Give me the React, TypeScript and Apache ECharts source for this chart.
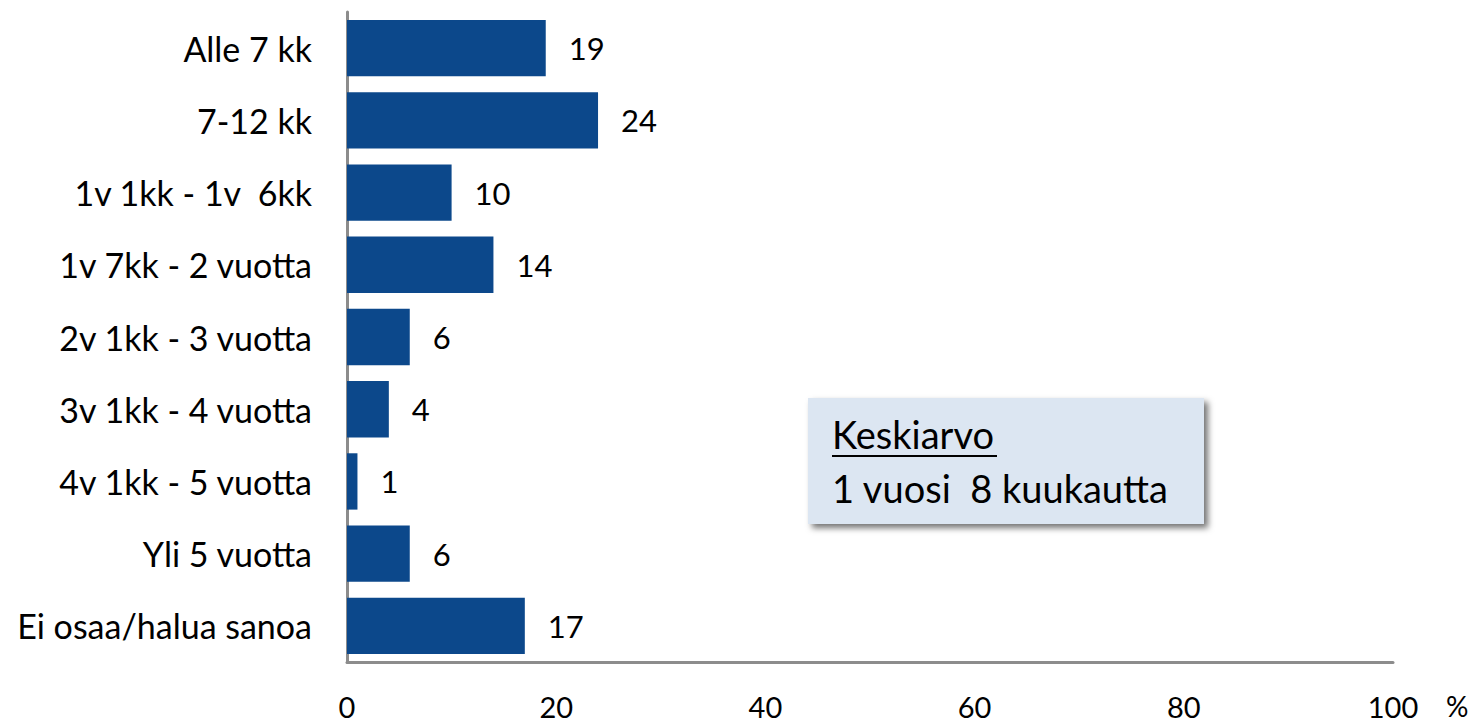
import React, { useEffect, useRef } from "react";
import * as echarts from "echarts";

const categories = [
  "Alle 7 kk",
  "7-12 kk",
  "1v 1kk - 1v  6kk",
  "1v 7kk - 2 vuotta",
  "2v 1kk - 3 vuotta",
  "3v 1kk - 4 vuotta",
  "4v 1kk - 5 vuotta",
  "Yli 5 vuotta",
  "Ei osaa/halua sanoa",
];
const values = [19, 24, 10, 14, 6, 4, 1, 6, 17];
const xTicks = [0, 20, 40, 60, 80, 100];
const boxTitle = "Keskiarvo";
const boxText = "1 vuosi  8 kuukautta";
const unitLabel = "%";

const FONT = "Lato, 'Open Sans', sans-serif";

export default function App() {
  const ref = useRef<HTMLDivElement>(null);
  useEffect(() => {
    if (!ref.current) return;
    const chart = echarts.init(ref.current, null, { renderer: "svg" });
    chart.setOption({
      animation: false,
      textStyle: { fontFamily: FONT },
      grid: { left: 347, top: 12, right: 86, bottom: 63, containLabel: false },
      xAxis: {
        type: "value",
        min: xTicks[0],
        max: xTicks[xTicks.length - 1],
        interval: 20,
        axisLine: { show: true, lineStyle: { color: "#8c8c8c", width: 3 } },
        axisTick: { show: false },
        splitLine: { show: false },
        axisLabel: { color: "#000", fontSize: 29, margin: 28, lineHeight: 32, fontFamily: FONT },
      },
      yAxis: {
        type: "category",
        inverse: true,
        data: categories,
        axisLine: { show: true, lineStyle: { color: "#8c8c8c", width: 3 } },
        axisTick: { show: false },
        axisLabel: { color: "#000", fontSize: 34, margin: 35, fontFamily: FONT },
      },
      series: [
        {
          type: "bar",
          data: values,
          barCategoryGap: "22%",
          itemStyle: { color: "#0c488b" },
          label: {
            show: true,
            position: "right",
            distance: 23,
            color: "#000",
            fontSize: 31,
            fontFamily: FONT,
          },
        },
      ],
      graphic: [
        {
          type: "text",
          x: 1446,
          y: 706,
          style: { text: unitLabel, fontSize: 28, fill: "#000", fontFamily: FONT, verticalAlign: "middle" },
        },
        {
          type: "rect",
          shape: { x: 808, y: 398, width: 396, height: 126 },
          style: {
            fill: "#dce6f2",
            shadowBlur: 6,
            shadowOffsetX: 4,
            shadowOffsetY: 4,
            shadowColor: "rgba(0,0,0,0.55)",
          },
        },
        {
          type: "text",
          x: 832,
          y: 434,
          style: { text: boxTitle, fontSize: 38, fill: "#000", fontFamily: FONT, verticalAlign: "middle" },
        },
        {
          type: "line",
          shape: { x1: 832, y1: 456, x2: 997, y2: 456 },
          style: { stroke: "#000", lineWidth: 2 },
        },
        {
          type: "text",
          x: 832,
          y: 488,
          style: { text: boxText, fontSize: 38, fill: "#000", fontFamily: FONT, verticalAlign: "middle" },
        },
      ],
    });
    return () => chart.dispose();
  }, []);
  return <div ref={ref} style={{ width: 1479, height: 725, position: "absolute", left: 0, top: 0 }} />;
}
